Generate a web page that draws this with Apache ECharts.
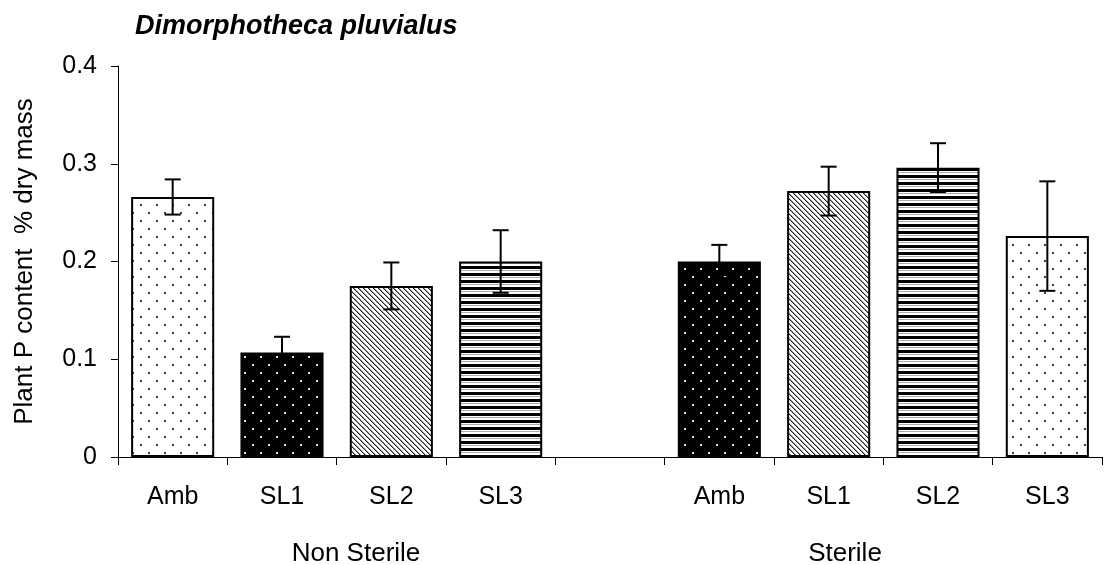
<!DOCTYPE html>
<html>
<head>
<meta charset="utf-8">
<script src="https://cdn.jsdelivr.net/npm/echarts@6/dist/echarts.min.js"></script>
<style>
  html, body { margin: 0; padding: 0; background: #fff; }
  #chart { width: 1104px; height: 565px; }
</style>
</head>
<body>
<div id="chart"></div>
<script>
// Treatments along the axis; the empty slot separates the two soil groups
const categories = ['Amb', 'SL1', 'SL2', 'SL3', '', 'Amb', 'SL1', 'SL2', 'SL3'];
// Plant P content, % of dry mass
const pContent = [0.266, 0.107, 0.175, 0.200, null, 0.200, 0.272, 0.296, 0.226];
// Error (± half-length of each error bar)
const pError = [0.018, 0.016, 0.024, 0.032, null, 0.017, 0.025, 0.025, 0.056];
// Fill pattern for each bar
const fills = ['lightDots', 'darkDots', 'diagonal', 'stripes', null, 'darkDots', 'diagonal', 'stripes', 'lightDots'];
// Soil groups shown under the treatment labels
const groups = ['Non Sterile', 'Sterile'];
const yTicks = [0, 0.1, 0.2, 0.3, 0.4];

const FONT = 'Liberation Sans, Arial, sans-serif';

function tile(w, h, draw) {
  const c = document.createElement('canvas');
  c.width = w; c.height = h;
  const ctx = c.getContext('2d');
  draw(ctx, w, h);
  return c;
}

const patterns = {
  lightDots: tile(16, 16, (ctx, w, h) => {
    ctx.fillStyle = '#fff'; ctx.fillRect(0, 0, w, h);
    ctx.fillStyle = '#444';
    ctx.fillRect(4, 4, 2, 2);
    ctx.fillRect(12, 12, 2, 2);
  }),
  darkDots: tile(16, 16, (ctx, w, h) => {
    ctx.fillStyle = '#000'; ctx.fillRect(0, 0, w, h);
    ctx.fillStyle = '#e6e6e6';
    ctx.fillRect(4, 4, 2, 2);
    ctx.fillRect(12, 12, 2, 2);
  }),
  diagonal: tile(5, 5, (ctx, w, h) => {
    ctx.fillStyle = '#fff'; ctx.fillRect(0, 0, w, h);
    for (let y = 0; y < h; y++) {
      for (let x = 0; x < w; x++) {
        const d = ((x - y) % w + w) % w;
        if (d === 0) { ctx.fillStyle = '#222'; ctx.fillRect(x, y, 1, 1); }
        else if (d === 1) { ctx.fillStyle = '#999'; ctx.fillRect(x, y, 1, 1); }
      }
    }
  }),
  stripes: tile(8, 7, (ctx, w, h) => {
    ctx.fillStyle = '#fff'; ctx.fillRect(0, 0, w, h);
    ctx.fillStyle = '#000'; ctx.fillRect(0, 0, w, 3);
    ctx.fillStyle = '#aaa'; ctx.fillRect(0, 4, w, 1);
  })
};

const barData = pContent.map((v, i) => v == null ? null : ({
  value: v,
  itemStyle: {
    color: { image: patterns[fills[i]], repeat: 'repeat' },
    borderColor: '#000',
    borderWidth: 2
  }
}));

const errData = pContent
  .map((v, i) => v == null ? null : [i, v, pError[i]])
  .filter(d => d);

const chart = echarts.init(document.getElementById('chart'), null, { renderer: 'canvas' });

chart.setOption({
  animation: false,
  backgroundColor: '#fff',
  title: {
    text: 'Dimorphotheca pluvialus',
    left: 130,
    top: 8,
    textStyle: { fontFamily: FONT, fontSize: 27, fontWeight: 'bold', fontStyle: 'italic', color: '#000' }
  },
  grid: { left: 118, right: 2, top: 66, bottom: 108, containLabel: false },
  xAxis: {
    type: 'category',
    data: categories,
    axisLine: { lineStyle: { color: '#000', width: 1 } },
    axisTick: { show: true, alignWithLabel: false, interval: 0, length: 8, lineStyle: { color: '#000' } },
    axisLabel: { interval: 0, margin: 28, fontFamily: FONT, fontSize: 25, color: '#000' }
  },
  yAxis: {
    type: 'value',
    min: yTicks[0],
    max: yTicks[yTicks.length - 1],
    interval: 0.1,
    name: 'Plant P content  % dry mass',
    nameLocation: 'middle',
    nameGap: 80,
    nameTextStyle: { fontFamily: FONT, fontSize: 26, color: '#000' },
    splitLine: { show: false },
    axisLine: { show: true, lineStyle: { color: '#000', width: 1 } },
    axisTick: { show: true, length: 7, lineStyle: { color: '#000' } },
    axisLabel: { margin: 21, fontFamily: FONT, fontSize: 25, color: '#000' }
  },
  graphic: [
    { type: 'text', x: 356, y: 554, style: { text: groups[0], font: '26px ' + FONT, fill: '#000', align: 'center', verticalAlign: 'middle' } },
    { type: 'text', x: 845, y: 554, style: { text: groups[1], font: '26px ' + FONT, fill: '#000', align: 'center', verticalAlign: 'middle' } }
  ],
  series: [
    {
      type: 'bar',
      data: barData,
      barCategoryGap: '24%',
      z: 2
    },
    {
      type: 'custom',
      data: errData,
      z: 3,
      renderItem: function (params, api) {
        const idx = api.value(0);
        const v = api.value(1);
        const e = api.value(2);
        const top = api.coord([idx, v + e]);
        const bot = api.coord([idx, v - e]);
        const hw = 8;
        const style = { stroke: '#000', lineWidth: 2 };
        return {
          type: 'group',
          children: [
            { type: 'line', shape: { x1: top[0], y1: top[1], x2: bot[0], y2: bot[1] }, style },
            { type: 'line', shape: { x1: top[0] - hw, y1: top[1], x2: top[0] + hw, y2: top[1] }, style },
            { type: 'line', shape: { x1: bot[0] - hw, y1: bot[1], x2: bot[0] + hw, y2: bot[1] }, style }
          ]
        };
      }
    }
  ]
});
</script>
</body>
</html>
